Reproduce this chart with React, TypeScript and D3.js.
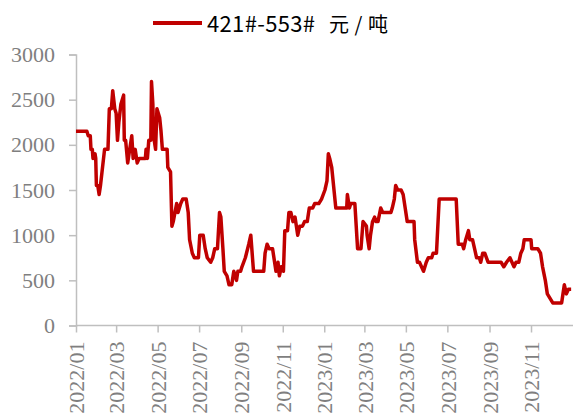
import React, { useEffect, useRef } from 'react';
import * as d3 from 'd3';

// 421#-553# price spread, yuan/ton
const dates: string[] = [
  '2022-01-01', '2022-01-17', '2022-01-19', '2022-01-22', '2022-01-23', '2022-01-25', '2022-01-26', '2022-01-29',
  '2022-01-30', '2022-01-31', '2022-02-02', '2022-02-04', '2022-02-06', '2022-02-12', '2022-02-17', '2022-02-19',
  '2022-02-22', '2022-02-24', '2022-02-27', '2022-03-01', '2022-03-03', '2022-03-05', '2022-03-08', '2022-03-12',
  '2022-03-13', '2022-03-15', '2022-03-18', '2022-03-21', '2022-03-24', '2022-03-26', '2022-03-29', '2022-04-01',
  '2022-04-04', '2022-04-13', '2022-04-14', '2022-04-16', '2022-04-18', '2022-04-21', '2022-04-22', '2022-04-24',
  '2022-04-25', '2022-04-28', '2022-04-30', '2022-05-04', '2022-05-06', '2022-05-08', '2022-05-15', '2022-05-16',
  '2022-05-20', '2022-05-22', '2022-05-24', '2022-05-29', '2022-05-31', '2022-06-04', '2022-06-07', '2022-06-12',
  '2022-06-15', '2022-06-17', '2022-06-21', '2022-06-24', '2022-06-30', '2022-07-02', '2022-07-07', '2022-07-10',
  '2022-07-13', '2022-07-18', '2022-07-21', '2022-07-24', '2022-07-28', '2022-07-31', '2022-08-02', '2022-08-05',
  '2022-08-07', '2022-08-11', '2022-08-14', '2022-08-18', '2022-08-21', '2022-08-25', '2022-08-27', '2022-08-31',
  '2022-09-02', '2022-09-07', '2022-09-12', '2022-09-15', '2022-09-19', '2022-10-04', '2022-10-06', '2022-10-09',
  '2022-10-12', '2022-10-17', '2022-10-20', '2022-10-22', '2022-10-25', '2022-10-27', '2022-10-30', '2022-11-02',
  '2022-11-04', '2022-11-08', '2022-11-10', '2022-11-13', '2022-11-16', '2022-11-19', '2022-11-23', '2022-11-26',
  '2022-11-30', '2022-12-03', '2022-12-07', '2022-12-10', '2022-12-15', '2022-12-18', '2022-12-24', '2022-12-28',
  '2023-01-02', '2023-01-05', '2023-01-07', '2023-01-09', '2023-01-12', '2023-01-14', '2023-01-18', '2023-02-03',
  '2023-02-04', '2023-02-07', '2023-02-09', '2023-02-15', '2023-02-17', '2023-02-19', '2023-02-24', '2023-02-27',
  '2023-03-04', '2023-03-05', '2023-03-08', '2023-03-10', '2023-03-13', '2023-03-16', '2023-03-18', '2023-03-21',
  '2023-03-25', '2023-03-28', '2023-04-09', '2023-04-11', '2023-04-14', '2023-04-16', '2023-04-19', '2023-04-24',
  '2023-04-27', '2023-04-30', '2023-05-03', '2023-05-13', '2023-05-14', '2023-05-18', '2023-05-21', '2023-05-24',
  '2023-05-27', '2023-05-31', '2023-06-03', '2023-06-08', '2023-06-10', '2023-06-15', '2023-06-16', '2023-06-19',
  '2023-07-14', '2023-07-17', '2023-07-23', '2023-07-25', '2023-07-28', '2023-08-01', '2023-08-03', '2023-08-07',
  '2023-08-10', '2023-08-13', '2023-08-17', '2023-08-19', '2023-08-22', '2023-08-25', '2023-08-30', '2023-09-18',
  '2023-09-22', '2023-09-26', '2023-10-01', '2023-10-04', '2023-10-07', '2023-10-10', '2023-10-14', '2023-10-17',
  '2023-10-20', '2023-10-22', '2023-11-01', '2023-11-02', '2023-11-11', '2023-11-15', '2023-11-18', '2023-11-22',
  '2023-11-25', '2023-11-29', '2023-12-03', '2023-12-16', '2023-12-18', '2023-12-20', '2023-12-23', '2023-12-26',
  '2023-12-30',
];

const spread: number[] = [
  2150, 2150, 2100, 2100, 1950, 1950, 1850, 1900,
  1850, 1550, 1550, 1450, 1550, 1950, 1950, 2400,
  2400, 2600, 2400, 2350, 2050, 2250, 2450, 2550,
  2050, 2050, 1800, 1950, 2100, 1850, 1950, 1800,
  1850, 1850, 1950, 1850, 2050, 2050, 2700, 2450,
  2100, 1950, 2400, 2300, 2150, 1950, 1950, 1750,
  1700, 1100, 1150, 1350, 1250, 1350, 1400, 1400,
  1250, 950, 800, 750, 750, 1000, 1000, 850,
  750, 700, 750, 850, 850, 1250, 1200, 850,
  600, 550, 450, 450, 600, 500, 600, 600,
  650, 750, 900, 1000, 600, 600, 800, 900,
  850, 850, 700, 600, 700, 550, 650, 600,
  1050, 1050, 1250, 1250, 1150, 1200, 1000, 1100,
  1100, 1150, 1150, 1300, 1300, 1350, 1350, 1400,
  1500, 1600, 1900, 1850, 1750, 1600, 1300, 1300,
  1450, 1300, 1350, 1350, 1100, 850, 850, 1150,
  1100, 1000, 850, 1000, 1150, 1200, 1150, 1150,
  1300, 1250, 1250, 1300, 1400, 1550, 1500, 1500,
  1450, 1300, 1150, 1150, 950, 700, 700, 650,
  600, 700, 750, 750, 800, 800, 950, 1400,
  1400, 900, 900, 850, 950, 1050, 950, 950,
  850, 750, 750, 700, 800, 800, 700, 700,
  650, 700, 750, 700, 650, 700, 700, 800,
  850, 950, 950, 850, 850, 800, 650, 500,
  350, 300, 250, 250, 350, 450, 350, 400,
  400,
];

const yTicks: number[] = [0, 500, 1000, 1500, 2000, 2500, 3000];
const xTickLabels: string[] = [
  '2022/01', '2022/03', '2022/05', '2022/07', '2022/09', '2022/11',
  '2023/01', '2023/03', '2023/05', '2023/07', '2023/09', '2023/11',
];
const seriesCode = '421#-553#';
const seriesUnit = '元/吨';

const W = 573;
const H = 417;

const App: React.FC = () => {
  const svgRef = useRef<SVGSVGElement>(null);

  useEffect(() => {
    if (!svgRef.current) return;
    const parse = d3.timeParse('%Y-%m-%d');
    const tickParse = d3.timeParse('%Y/%m');
    const data = dates.map((d, i) => ({ date: parse(d)!, value: spread[i] }));

    const svg = d3.select(svgRef.current).html('');

    const x = d3.scaleTime()
      .domain([new Date(2022, 0, 1), new Date(2024, 0, 1)])
      .range([76, 572.5]);
    const y = d3.scaleLinear().domain([0, 3000]).range([325.5, 54.5]);

    const axisColor = '#bfbfbf';
    const labelColor = '#7f7f7f';
    const serif = '"Liberation Serif", "Times New Roman", serif';

    // Y axis
    const yAxis = svg.append('g')
      .attr('transform', 'translate(76,0)')
      .call(d3.axisLeft(y).tickValues(yTicks).tickSize(7).tickPadding(14).tickFormat(d3.format('d')));
    yAxis.select('.domain').attr('stroke', axisColor).attr('stroke-width', 1.5);
    yAxis.selectAll('.tick line').attr('stroke', axisColor).attr('stroke-width', 1.5);
    yAxis.selectAll('.tick text')
      .attr('fill', labelColor)
      .style('font-family', serif)
      .style('font-size', '22px');

    // X axis
    const xAxis = svg.append('g')
      .attr('transform', 'translate(0,325.5)')
      .call(
        d3.axisBottom(x)
          .tickValues(xTickLabels.map((t) => tickParse(t)!))
          .tickSize(7)
          .tickSizeOuter(0)
          .tickFormat((d) => d3.timeFormat('%Y/%m')(d as Date)),
      );
    xAxis.select('.domain').attr('d', `M76,0H${W}`).attr('stroke', axisColor).attr('stroke-width', 1.5);
    xAxis.selectAll('.tick line').attr('stroke', axisColor).attr('stroke-width', 1.5);
    xAxis.selectAll('.tick text')
      .attr('fill', labelColor)
      .attr('transform', 'rotate(-90)')
      .attr('text-anchor', 'end')
      .attr('x', -16)
      .attr('y', 0)
      .attr('dy', '0.35em')
      .style('font-family', serif)
      .style('font-size', '22px');

    // Series line
    const line = d3.line<{ date: Date; value: number }>()
      .x((d) => x(d.date))
      .y((d) => y(d.value));

    svg.append('path')
      .datum(data)
      .attr('d', line)
      .attr('fill', 'none')
      .attr('stroke', '#c00000')
      .attr('stroke-width', 3.5)
      .attr('stroke-linejoin', 'round');

    // Legend
    const legendFont = '"Noto Sans CJK SC", "Noto Sans", sans-serif';
    svg.append('line')
      .attr('x1', 153).attr('x2', 202)
      .attr('y1', 23).attr('y2', 23)
      .attr('stroke', '#c00000')
      .attr('stroke-width', 4);
    svg.append('text')
      .attr('x', 207)
      .attr('y', 32)
      .attr('fill', '#000')
      .attr('textLength', 108)
      .attr('lengthAdjust', 'spacing')
      .style('font-family', legendFont)
      .style('font-size', '22px')
      .text(seriesCode);
    svg.append('text')
      .attr('x', 329)
      .attr('y', 32)
      .attr('fill', '#000')
      .attr('textLength', 59)
      .attr('lengthAdjust', 'spacing')
      .style('font-family', legendFont)
      .style('font-size', '20px')
      .text(seriesUnit);
  }, []);

  return (
    <svg
      ref={svgRef}
      width={W}
      height={H}
      style={{ position: 'absolute', left: 0, top: 0, background: '#fff' }}
    />
  );
};

export default App;
